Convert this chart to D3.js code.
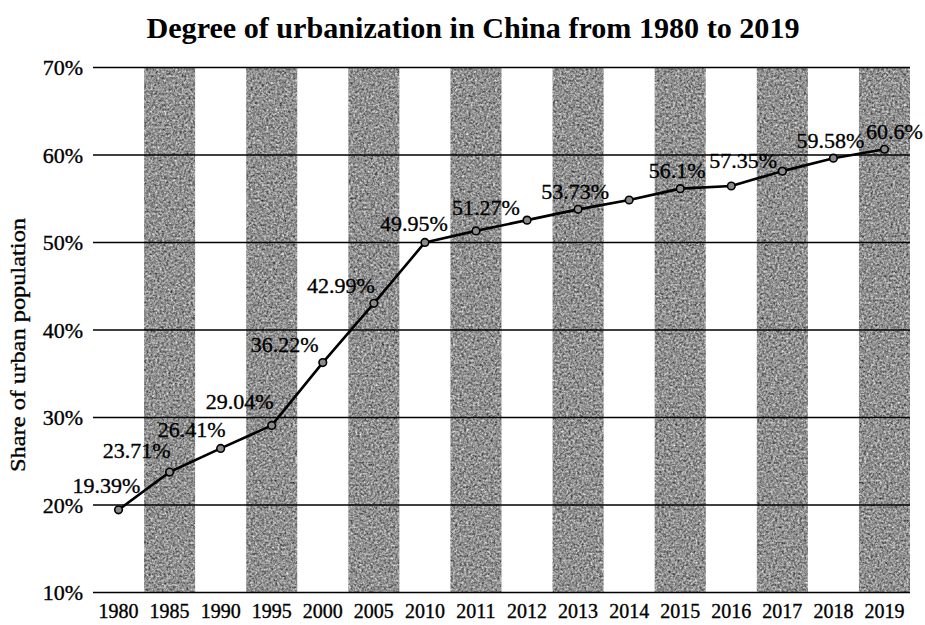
<!DOCTYPE html>
<html>
<head>
<meta charset="utf-8">
<script src="https://cdn.jsdelivr.net/npm/d3@7"></script>
<style>
  body { margin: 0; background: #fff; }
  svg text { font-family: "Liberation Serif", "Times New Roman", serif; fill: #000; }
  svg text.ink { stroke: #000; stroke-width: 0.35px; }
</style>
</head>
<body>
<div id="chart"></div>
<script>
const years = ['1980', '1985', '1990', '1995', '2000', '2005', '2010', '2011',
  '2012', '2013', '2014', '2015', '2016', '2017', '2018', '2019'];
// share of urban population (%) as plotted
const share = [19.39, 23.71, 26.41, 29.04, 36.22, 42.99, 49.95, 51.27,
  52.5, 53.73, 54.8, 56.1, 56.4, 58.1, 59.58, 60.6];
// text written next to the points (blank = no label)
const pointLabels = ['19.39%', '23.71%', '26.41%', '29.04%', '36.22%', '42.99%', '49.95%', '51.27%',
  '', '53.73%', '', '56.1%', '57.35%', '', '59.58%', '60.6%'];
const yTicks = [10, 20, 30, 40, 50, 60, 70];

// hand placed label nudges (dx, dy from the point), like the original
const labelNudge = [[-12, -17], [-33, -14], [-29, -11], [-32, -16], [-38, -11], [-33, -10], [-11, -11], [10, -16],
  [0, 0], [-3, -10], [0, 0], [-3, -11], [12, -18], [0, 0], [-3, -10], [10, -10]];

const width = 925, height = 625;
const margin = {top: 67, right: 15, bottom: 33, left: 93};

const points = years.map((yr, i) => ({
  year: yr,
  value: share[i],
  label: pointLabels[i],
  nudge: labelNudge[i]
}));

const svg = d3.select('#chart')
  .append('svg')
  .attr('width', width)
  .attr('height', height);

// mottled grey texture for the columns
const defs = svg.append('defs');
const grain = defs.append('filter')
  .attr('id', 'grain')
  .attr('color-interpolation-filters', 'sRGB')
  .attr('x', 0).attr('y', 0).attr('width', 1).attr('height', 1);
grain.append('feTurbulence')
  .attr('type', 'fractalNoise')
  .attr('baseFrequency', 0.45)
  .attr('numOctaves', 4)
  .attr('seed', 4)
  .attr('result', 'noise');
grain.append('feColorMatrix')
  .attr('in', 'noise')
  .attr('type', 'matrix')
  .attr('values', '0.3 0.6 0.1 0 0  0.3 0.6 0.1 0 0  0.3 0.6 0.1 0 0  0 0 0 0 1')
  .attr('result', 'grey');
const ct = grain.append('feComponentTransfer').attr('in', 'grey').attr('result', 'contrast');
['feFuncR', 'feFuncG', 'feFuncB'].forEach(f => {
  ct.append(f).attr('type', 'linear').attr('slope', 1.25).attr('intercept', -0.06);
});
grain.append('feComposite')
  .attr('in', 'contrast')
  .attr('in2', 'SourceGraphic')
  .attr('operator', 'in');

const x = d3.scaleBand()
  .domain(years)
  .range([margin.left, width - margin.right])
  .padding(0);

const y = d3.scaleLinear()
  .domain([10, 70])
  .range([height - margin.bottom, margin.top]);

const cx = d => x(d.year) + x.bandwidth() / 2;

// stippled columns behind every second year
svg.append('g')
  .selectAll('rect')
  .data(years.filter((d, i) => i % 2 === 1))
  .enter()
  .append('rect')
    .attr('x', d => x(d))
    .attr('y', y(70))
    .attr('width', x.bandwidth())
    .attr('height', y(10) - y(70))
    .attr('fill', '#909090')
    .attr('filter', 'url(#grain)');

// horizontal grid
const yAxis = svg.append('g')
  .attr('transform', `translate(${margin.left},0)`)
  .call(d3.axisLeft(y)
    .tickValues(yTicks)
    .tickSize(-(width - margin.left - margin.right))
    .tickPadding(10)
    .tickFormat(d => `${d}%`));
yAxis.select('.domain').remove();
yAxis.selectAll('.tick line')
  .attr('stroke', '#000')
  .attr('stroke-width', 1.6);
yAxis.selectAll('.tick text')
  .attr('class', 'ink')
  .style('font-size', '22px')
  .attr('dy', '0.36em');

const xAxis = svg.append('g')
  .attr('transform', `translate(0,${y(10)})`)
  .call(d3.axisBottom(x).tickSize(0).tickPadding(12));
xAxis.select('.domain').remove();
xAxis.selectAll('.tick text')
  .attr('class', 'ink')
  .style('font-size', '20px');

// the series line
const line = d3.line()
  .x(cx)
  .y(d => y(d.value));

svg.append('path')
  .datum(points)
  .attr('fill', 'none')
  .attr('stroke', '#000')
  .attr('stroke-width', 2.6)
  .attr('stroke-linejoin', 'round')
  .attr('d', line);

svg.append('g')
  .selectAll('circle')
  .data(points)
  .enter()
  .append('circle')
    .attr('cx', cx)
    .attr('cy', d => y(d.value))
    .attr('r', 3.8)
    .attr('fill', '#8a8a8a')
    .attr('stroke', '#000')
    .attr('stroke-width', 1.6);

svg.append('g')
  .selectAll('text')
  .data(points.filter(d => d.label !== ''))
  .enter()
  .append('text')
    .attr('class', 'ink')
    .attr('x', d => cx(d) + d.nudge[0])
    .attr('y', d => y(d.value) + d.nudge[1])
    .attr('text-anchor', 'middle')
    .style('font-size', '22px')
    .text(d => d.label);

// title and axis title
svg.append('text')
  .attr('x', 473)
  .attr('y', 38)
  .attr('text-anchor', 'middle')
  .attr('textLength', 653)
  .attr('lengthAdjust', 'spacingAndGlyphs')
  .style('font-size', '30px')
  .style('font-weight', 'bold')
  .text('Degree of urbanization in China from 1980 to 2019');

svg.append('text')
  .attr('class', 'ink')
  .attr('transform', `translate(25,${(218 + 472) / 2}) rotate(-90)`)
  .attr('text-anchor', 'middle')
  .attr('textLength', 254)
  .attr('lengthAdjust', 'spacingAndGlyphs')
  .style('font-size', '20px')
  .text('Share of urban population');
</script>
</body>
</html>
